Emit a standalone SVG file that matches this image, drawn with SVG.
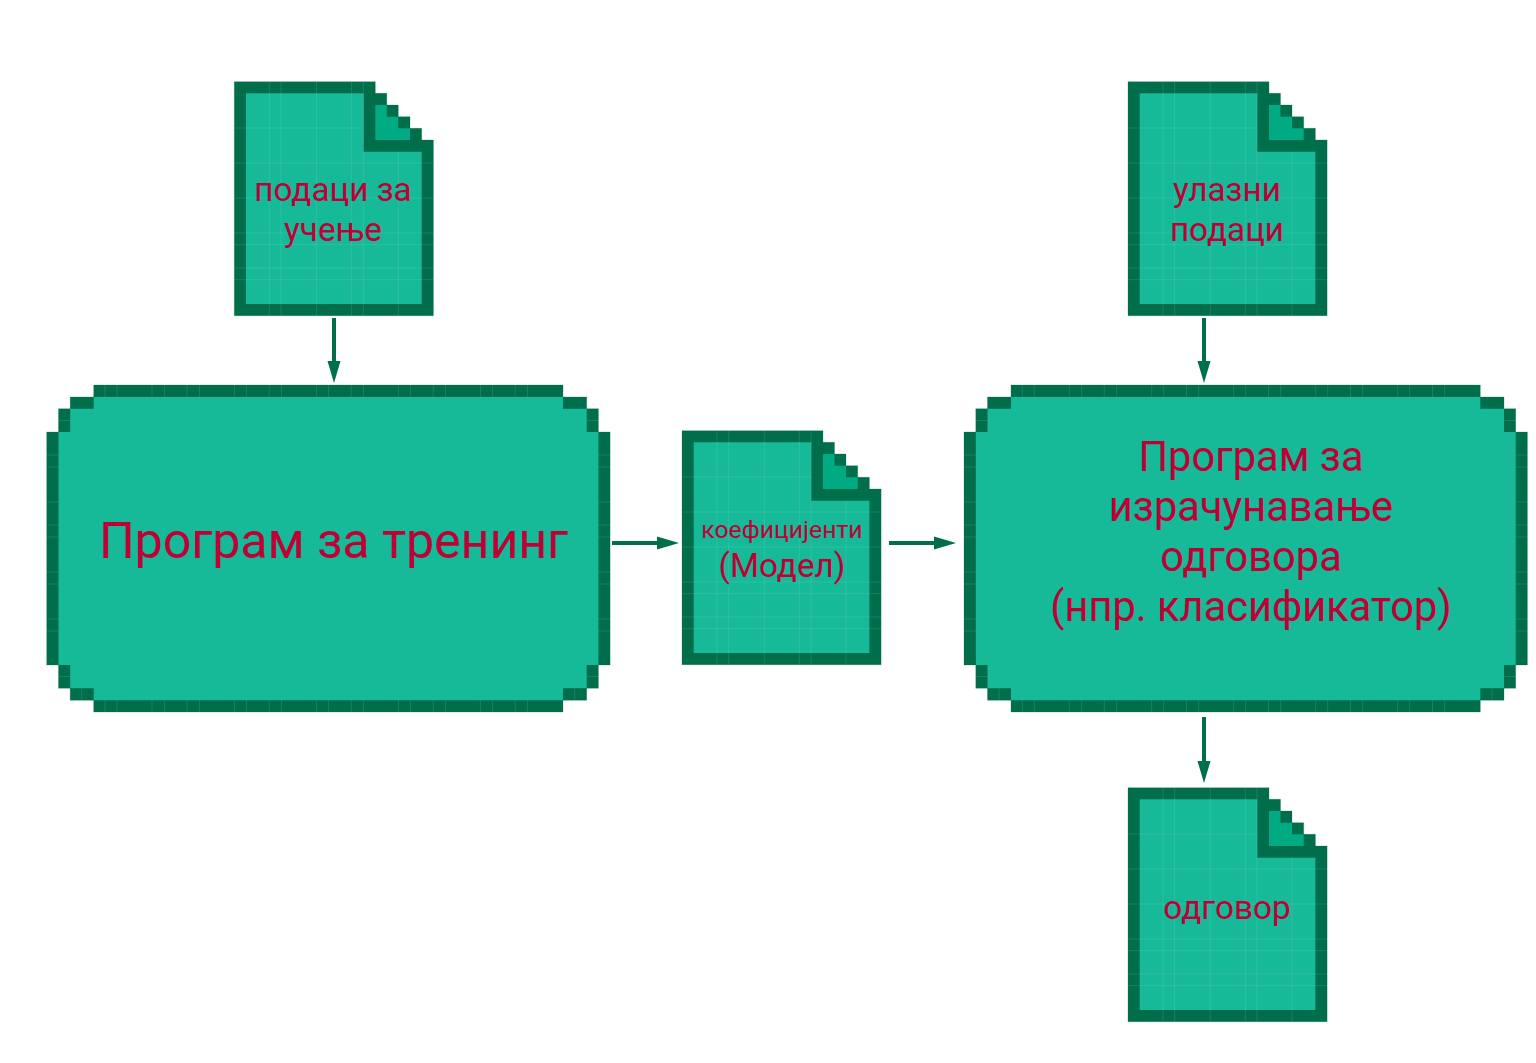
<svg xmlns="http://www.w3.org/2000/svg" width="1536" height="1063" viewBox="0 0 1536 1063">
<style>
.fill{fill:#16b998}
.dark{fill:#006d4b}
.fold{fill:#00ab84}
.grid{fill:none;stroke:#fff;stroke-opacity:.1;stroke-width:1}
.seam{fill:none;stroke:#fff;stroke-opacity:.12;stroke-width:1}
.edge{fill:none;stroke:#006d4b;stroke-opacity:.25;stroke-width:1}
.wire{fill:none;stroke:#006d4b;stroke-width:4}
text{font-family:Roboto,"Noto Sans",sans-serif;fill:#bf0035;text-anchor:middle}
.t33{font-size:33.3px}
.t25{font-size:24.8px}
.t42{font-size:41.6px}
.t50{font-size:50px}
</style>
<defs>
<marker id="arrow" markerUnits="userSpaceOnUse" markerWidth="23" markerHeight="14" refX="0" refY="7" orient="auto" viewBox="0 0 23 14"><path d="M0 0.500L22 7L0 13.500Z" fill="#006d4b"/></marker>
<g id="doc">
<path class="dark" d="M0 0H141V11.600H152.500V23.300H164V35H175.700V46.600H187.400V58.300H199.100V234H0Z"/>
<path class="fill" d="M11.700 11.600V222.300H187.400V70H129.300V11.600Z"/>
<path class="fold" d="M141 23.300H152.500V35H164V46.600H175.700V58.300H141Z"/>
<path class="grid" d="M35 11.600V222.300M46.700 11.600V222.300M82.300 11.600V222.300M117.300 11.600V222.300M129 11.600V222.300M164 70V222.300M11.700 46.300H129.300M11.700 81.300H187.400M11.700 116.300H187.400M11.700 151.300H187.400M11.700 163H187.400M11.700 186.300H187.400M11.700 198H187.400"/>
<path class="edge" d="M0 234V0H141V11.600H152.500V23.300H164V35H175.700V46.600H187.400V58.300H199.100V234Z"/>
<path class="seam" d="M35 0V11.600M46.700 0V11.600M82.300 0V11.600M117.300 0V11.600M129 0V11.600M35 222.300V234M46.700 222.300V234M82.300 222.300V234M117.300 222.300V234M129 222.300V234M164 222.300V234M0 46.300H11.700M0 81.300H11.700M0 116.300H11.700M0 151.300H11.700M0 163H11.700M0 186.300H11.700M0 198H11.700M187.400 81.300H199.100M187.400 116.300H199.100M187.400 151.300H199.100M187.400 163H199.100M187.400 186.300H199.100M187.400 198H199.100"/>
</g>
<g id="box">
<path class="dark" d="M47 0H516.300V12H540V23.700H551.700V47H563.400V280H551.700V303.300H540V315.300H516.300V327H47V315.300H23.500V303.300H11.800V280H0V47H11.800V23.700H23.500V12H47Z"/>
<path class="fill" d="M47 12V23.700H23.500V47H11.800V280H23.500V303.300H47V315.300H516.300V303.300H540V280H551.700V47H540V23.700H516.300V12Z"/>
<path class="edge" d="M47 0H516.300V12H540V23.700H551.700V47H563.400V280H551.700V303.300H540V315.300H516.300V327H47V315.300H23.500V303.300H11.800V280H0V47H11.800V23.700H23.500V12H47Z"/>
<path class="seam" d="M58.300 0V12M70.300 0V12M105.300 0V12M117.700 0V12M140.300 0V12M152.700 0V12M187.700 0V12M199.700 0V12M222.500 0V12M234.700 0V12M269.700 0V12M281.700 0V12M304.500 0V12M316.700 0V12M351.700 0V12M363.700 0V12M386.500 0V12M398.700 0V12M433.700 0V12M445.700 0V12M468.500 0V12M480.700 0V12M58.300 315V327M70.300 315V327M105.300 315V327M117.700 315V327M140.300 315V327M152.700 315V327M187.700 315V327M199.700 315V327M222.500 315V327M234.700 315V327M269.700 315V327M281.700 315V327M304.500 315V327M316.700 315V327M351.700 315V327M363.700 315V327M386.500 315V327M398.700 315V327M433.700 315V327M445.700 315V327M468.500 315V327M480.700 315V327M11.800 35.500H23.500M11.800 291.500H23.500M540 35.500H551.700M540 291.500H551.700M35 303.500V315M528 303.500V315M0 70H11.800M0 82H11.800M0 117H11.800M0 140H11.800M0 152H11.800M0 187H11.800M0 199H11.800M0 234H11.800M0 246H11.800M551.700 70H563.400M551.700 82H563.400M551.700 117H563.400M551.700 140H563.400M551.700 152H563.400M551.700 187H563.400M551.700 199H563.400M551.700 234H563.400M551.700 246H563.400"/>
</g>
</defs>
<rect width="1536" height="1063" fill="#fff"/>
<g id="connectors">
<path class="wire" marker-end="url(#arrow)" d="M334 318V361"/>
<path class="wire" marker-end="url(#arrow)" d="M612 543H657"/>
<path class="wire" marker-end="url(#arrow)" d="M889 543H934"/>
<path class="wire" marker-end="url(#arrow)" d="M1204 318V361"/>
<path class="wire" marker-end="url(#arrow)" d="M1204 717V761"/>
</g>
<g id="training-data"><use href="#doc" x="234.300" y="81.700"/><text class="t33" x="333" y="201">подаци за</text><text class="t33" x="333" y="241">учење</text></g>
<g id="training-program"><use href="#box" x="46.700" y="385"/><text class="t50" x="333.500" y="558">Програм за тренинг</text></g>
<g id="model"><use href="#doc" x="682" y="430.700"/><text class="t25" x="782" y="538">коефицијенти</text><text class="t33" x="782" y="577">(Модел)</text></g>
<g id="answer-program"><use href="#box" x="964" y="385"/><text class="t42" x="1251" y="471">Програм за</text><text class="t42" x="1251" y="521">израчунавање</text><text class="t42" x="1251" y="571">одговора</text><text class="t42" x="1251" y="621">(нпр. класификатор)</text></g>
<g id="input-data"><use href="#doc" x="1128" y="81.700"/><text class="t33" x="1227" y="201">улазни</text><text class="t33" x="1227" y="241">подаци</text></g>
<g id="answer"><use href="#doc" x="1128" y="787.700"/><text class="t33" x="1227" y="919">одговор</text></g>
</svg>
